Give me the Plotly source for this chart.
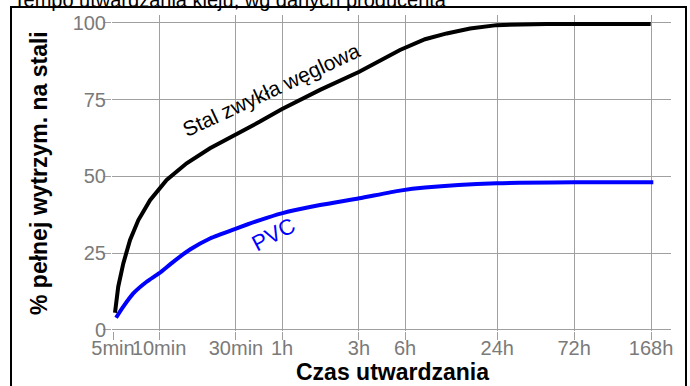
import plotly.graph_objects as go

# x values are the chart's own log-like time units (rounded log10 of minutes)
tick_units = [0.7, 1.0, 1.5, 1.8, 2.3, 2.6, 3.2, 3.7, 4.2]
tick_labels = ["5min", "10min", "30min", "1h", "3h", "6h", "24h", "72h", "168h"]
y_ticks = [0, 25, 50, 75, 100]

steel_x = [0.713, 0.734, 0.767, 0.811, 0.865, 0.941, 1.049, 1.179, 1.331, 1.505,
           1.656, 1.797, 2.047, 2.302, 2.567, 2.73, 2.871, 3.023, 3.196, 3.521, 4.198]
steel_y = [5.6, 14.1, 21.7, 29.3, 35.8, 42.3, 48.9, 54.3, 59.2, 63.7,
           67.9, 71.9, 78.2, 84.1, 91.2, 94.7, 96.6, 98.2, 99.3, 99.7, 99.7]

pvc_x = [0.72, 0.767, 0.832, 0.919, 1.001, 1.092, 1.201, 1.331, 1.505, 1.656,
         1.797, 2.047, 2.302, 2.567, 2.73, 3.196, 3.70, 4.215]
pvc_y = [4.0, 7.6, 11.9, 15.7, 18.5, 22.2, 26.2, 29.8, 33.1, 35.8,
         38.0, 40.7, 42.9, 45.4, 46.4, 47.8, 48.1, 48.1]

FONT = "Liberation Sans, Arial, sans-serif"
GRID = "#a0a0a0"
TICKC = "#7a7a7a"

fig = go.Figure()
# empty trace that carries the outer frame axes (first subplot, drawn underneath)
fig.add_trace(go.Scatter(x=[None], y=[None], xaxis="x", yaxis="y",
                         mode="lines", hoverinfo="skip"))
fig.add_trace(go.Scatter(x=steel_x, y=steel_y, xaxis="x2", yaxis="y2", mode="lines",
                         line=dict(color="black", width=4), hoverinfo="skip"))
fig.add_trace(go.Scatter(x=pvc_x, y=pvc_y, xaxis="x2", yaxis="y2", mode="lines",
                         line=dict(color="#0000ff", width=4, shape="spline", smoothing=0.6),
                         hoverinfo="skip"))

fig.update_layout(
    width=690, height=386,
    margin=dict(l=12, r=5, t=8, b=0, autoexpand=False),
    paper_bgcolor="white", plot_bgcolor="rgba(0,0,0,0)",
    showlegend=False,
    font=dict(family=FONT),
    title=dict(text="Tempo utwardzania kleju, wg danych producenta",
               x=0.333, xanchor="center", y=1.0, yanchor="middle",
               font=dict(size=20, color="black", family=FONT)),
    xaxis=dict(domain=[0, 1], anchor="y", side="top", range=[0, 1],
               showline=True, linecolor="black", linewidth=2, mirror=False,
               showgrid=False, zeroline=False, showticklabels=False, ticks=""),
    yaxis=dict(domain=[0, 1], anchor="x", range=[0, 1],
               showline=True, linecolor="black", linewidth=2, mirror=True,
               showgrid=False, zeroline=False, showticklabels=False, ticks=""),
    xaxis2=dict(domain=[0.14859, 0.97920], anchor="y2",
                range=[0.6935, 4.330], tickvals=tick_units, ticktext=tick_labels,
                tickangle=0, automargin=False, ticklabelstandoff=-9,
                showgrid=True, gridcolor=GRID, gridwidth=1, zeroline=False,
                showline=False, ticks="outside", ticklen=8, tickcolor=GRID,
                tickfont=dict(size=20, color=TICKC, family=FONT)),
    yaxis2=dict(domain=[0.14550, 0.98148], anchor="x2",
                range=[-0.33, 102.6], tickvals=y_ticks, automargin=False,
                ticklabelstandoff=-7,
                showgrid=True, gridcolor=GRID, gridwidth=1, zeroline=False,
                showline=False, ticks="outside", ticklen=8, tickcolor=GRID,
                tickfont=dict(size=20, color=TICKC, family=FONT)),
)

fig.add_annotation(text="<b>% pełnej wytrzym. na stali</b>", textangle=-90,
                   xref="paper", yref="paper", x=0.04012, y=0.5635,
                   xanchor="center", yanchor="middle", showarrow=False,
                   font=dict(size=23, color="black", family=FONT))
fig.add_annotation(text="<b>Czas utwardzania</b>",
                   xref="paper", yref="paper", x=0.56464, y=0.03704,
                   xanchor="center", yanchor="middle", showarrow=False,
                   font=dict(size=23, color="black", family=FONT))

fig.add_annotation(text="Stal zwykła węglowa", textangle=-25,
                   x=1.733, y=78.2, xref="x2", yref="y2",
                   xanchor="center", yanchor="middle", showarrow=False,
                   font=dict(size=21, color="black", family=FONT))
fig.add_annotation(text="PVC", textangle=-28,
                   x=1.743, y=31.0, xref="x2", yref="y2",
                   xanchor="center", yanchor="middle", showarrow=False,
                   font=dict(size=22, color="#0000ff", family=FONT))

fig.write_html("out.html", config={"displayModeBar": False},
               post_script="document.body.style.margin='0';document.body.style.overflow='hidden';")
